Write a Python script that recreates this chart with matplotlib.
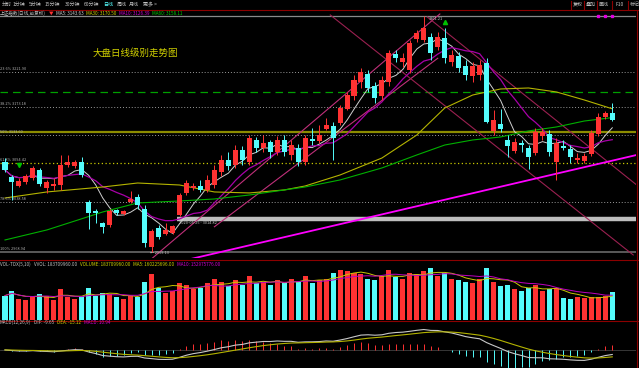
import numpy as np
import pandas as pd
import matplotlib
matplotlib.use('Agg')
import matplotlib.pyplot as plt
from matplotlib.lines import Line2D

plt.rcParams['font.family'] = ['Noto Sans CJK SC', 'DejaVu Sans']

# daily candles (index points)
opens = [3095.6, 3074.5, 3061.8, 3067.4, 3073.1, 3084.3, 3059.0, 3061.8, 3063.2, 3091.4,
         3090.0, 3095.6, 3039.3, 3026.6, 3009.7, 3006.9, 3028.0, 3022.4, 3039.3, 3046.3,
         3029.4, 2975.9, 3002.7, 2994.2, 2995.6, 3021.0, 3052.0, 3059.0, 3061.8, 3056.2,
         3063.2, 3081.5, 3098.4, 3091.4, 3112.5, 3095.6, 3126.6, 3115.3, 3123.8, 3109.7,
         3126.6, 3105.5, 3115.3, 3095.6, 3128.0, 3125.2, 3142.1, 3146.3, 3150.5, 3170.2,
         3188.5, 3208.2, 3219.5, 3202.6, 3188.5, 3208.2, 3247.7, 3236.4, 3225.1, 3268.8,
         3267.4, 3271.6, 3257.5, 3270.2, 3236.4, 3244.9, 3230.8, 3216.7, 3218.1, 3235.0,
         3139.3, 3149.1, 3126.6, 3111.1, 3122.4, 3115.3, 3108.3, 3132.2, 3135.0, 3095.6,
         3118.1, 3113.9, 3098.4, 3097.0, 3106.9, 3135.0, 3159.0, 3164.6]
closes = [3084.3, 3067.4, 3068.9, 3075.9, 3087.2, 3064.6, 3067.4, 3064.6, 3091.4, 3095.6,
          3095.6, 3077.3, 3023.8, 3023.8, 3004.1, 3026.6, 3023.8, 3026.6, 3043.5, 3035.1,
          2981.6, 2998.5, 2990.0, 2999.9, 3005.5, 3049.1, 3066.0, 3061.8, 3056.2, 3070.3,
          3084.3, 3098.4, 3090.0, 3112.5, 3098.4, 3129.4, 3115.3, 3122.4, 3109.7, 3126.6,
          3109.7, 3119.5, 3095.6, 3129.4, 3125.2, 3133.6, 3147.7, 3129.4, 3171.6, 3189.9,
          3211.1, 3222.3, 3199.8, 3185.7, 3211.1, 3249.1, 3242.0, 3242.0, 3263.2, 3277.2,
          3284.3, 3249.1, 3271.6, 3242.0, 3246.3, 3228.0, 3218.1, 3230.8, 3232.2, 3151.9,
          3154.7, 3142.1, 3118.1, 3123.8, 3119.5, 3102.6, 3137.8, 3137.8, 3109.7, 3122.4,
          3115.3, 3102.6, 3101.2, 3104.1, 3136.4, 3159.0, 3164.6, 3154.7]
highs = [3101.2, 3077.3, 3073.1, 3078.7, 3090.0, 3087.2, 3070.3, 3073.1, 3105.5, 3105.5,
         3098.4, 3102.6, 3042.1, 3029.4, 3011.1, 3029.4, 3029.4, 3028.0, 3054.8, 3050.5,
         3035.1, 3001.3, 3006.9, 3009.7, 3006.9, 3052.0, 3070.3, 3066.0, 3070.3, 3077.3,
         3091.4, 3105.5, 3109.7, 3119.5, 3118.1, 3133.6, 3130.8, 3133.6, 3126.6, 3132.2,
         3133.6, 3126.6, 3120.9, 3133.6, 3143.5, 3147.7, 3157.6, 3151.9, 3175.9, 3194.2,
         3218.1, 3228.0, 3225.1, 3208.2, 3216.7, 3253.3, 3253.3, 3249.1, 3267.4, 3281.5,
         3301.2, 3277.2, 3278.6, 3284.3, 3253.3, 3250.5, 3239.2, 3236.4, 3239.2, 3242.0,
         3168.8, 3170.2, 3133.6, 3129.4, 3126.6, 3119.5, 3143.5, 3143.5, 3140.7, 3129.4,
         3126.6, 3119.5, 3108.3, 3108.3, 3140.7, 3164.6, 3167.4, 3178.7]
lows = [3081.5, 3042.1, 3060.4, 3064.6, 3070.3, 3061.8, 3052.0, 3056.2, 3056.2, 3088.6,
        3087.2, 3074.5, 3001.3, 3009.7, 2995.6, 3004.1, 3021.0, 3021.0, 3037.9, 3029.4,
        2975.9, 2968.9, 2987.2, 2992.8, 2994.2, 3019.6, 3049.1, 3056.2, 3053.4, 3053.4,
        3059.0, 3075.9, 3084.3, 3087.2, 3091.4, 3091.4, 3109.7, 3109.7, 3101.2, 3105.5,
        3104.1, 3098.4, 3090.0, 3091.4, 3119.5, 3122.4, 3140.7, 3098.4, 3147.7, 3168.8,
        3182.9, 3199.8, 3194.2, 3178.7, 3182.9, 3202.6, 3236.4, 3229.4, 3220.9, 3264.6,
        3264.6, 3239.2, 3253.3, 3235.0, 3230.8, 3222.3, 3211.1, 3208.2, 3211.1, 3150.5,
        3133.6, 3137.8, 3102.6, 3108.3, 3109.7, 3085.7, 3105.5, 3126.6, 3104.1, 3070.3,
        3112.5, 3094.2, 3094.2, 3094.2, 3104.1, 3132.2, 3156.1, 3153.3]
volumes = [160, 190, 140, 130, 150, 170, 160, 130, 200, 150, 140, 160,
           210, 160, 180, 170, 150, 140, 160, 150,
           250, 300, 210, 180, 190, 240, 230, 200,
           210, 240, 270, 250, 220, 260, 230, 290, 240, 250, 230, 260, 240, 270, 250,
           290, 240, 260, 270, 310, 330, 320,
           310, 300, 270, 260, 290, 330, 280, 270, 310, 300, 320, 340, 290, 310,
           270, 260, 250, 240, 270, 340,
           250, 220, 230, 200, 190, 210, 230, 190, 200, 210,
           144, 140, 148, 145, 148, 150, 155, 184]  # millions

ma30_idx = [0, 6, 14, 19, 25, 30, 35, 40, 43, 48, 54, 59, 63, 67, 71, 75, 79, 83, 87]
ma30_val = [3044.9, 3053.4, 3060.4, 3066.0, 3063.2, 3053.4, 3052.0, 3056.2, 3061.8, 3077.3,
            3101.2, 3133.6, 3171.6, 3189.9, 3198.4, 3199.8, 3194.2, 3182.9, 3170.5]
ma60_idx = [0, 6, 10, 14, 19, 25, 30, 35, 40, 43, 48, 54, 59, 63, 67, 71, 75, 79, 83, 87]
ma60_val = [2985.8, 2999.9, 3012.5, 3025.2, 3037.9, 3040.7, 3043.5, 3049.1, 3056.2, 3060.4,
            3070.3, 3087.2, 3105.5, 3119.5, 3126.6, 3130.8, 3139.3, 3144.9, 3153.3, 3158.1]

# fibonacci levels
fib_names = ['23.6%', '38.2%', '50%', '61.8%', '78.6%', '100%']
fib_vals = [3221.90, 3173.18, 3133.60, 3094.42, 3038.58, 2968.94]
fib_top = 3301.21
support = 3014.82
green_level = 3194.2
olive_level = 3138.5

# drawn trend lines (index, price)
magenta_line = ([26.0, 90.5], [2957.6, 3105.5])
up_lines = [([20.8, 62.3], [2957.6, 3304.0]), ([30.0, 62.0], [3004.4, 3241.7])]
down_lines = [([60.5, 90.5], [3299.8, 3063.2]), ([46.6, 90.0], [3302.6, 2964.7])]

RED = '#ff3232'
CYAN = '#54fcfc'
W, H = 639, 368
n = len(closes)
idx = np.arange(n)
o = np.array(opens); c = np.array(closes)
up = c >= o
cols = np.where(up, RED, CYAN)

fig = plt.figure(figsize=(W / 100, H / 100), dpi=100, facecolor='black')
rend = fig.canvas.get_renderer()


def box(y0, y1, x0=0, x1=636):
    a = fig.add_axes([x0 / W, 1 - y1 / H, (x1 - x0) / W, (y1 - y0) / H])
    a.set_facecolor('black')
    a.set_xlim(-0.716, 90.4)
    a.set_xticks([]); a.set_yticks([])
    for s in a.spines.values():
        s.set_visible(False)
    return a


def hline(y, x0=0, x1=W, color='#8c0000', lw=0.8):
    fig.add_artist(Line2D([x0 / W, x1 / W], [1 - y / H, 1 - y / H], color=color, lw=lw))


def text_row(items, y, x0=0, fs=3.3, gap=3):
    # lay texts left to right without overlap
    x = x0
    for t, col in items:
        tx = fig.text(x / W, 1 - y / H, t, color=col, fontsize=fs, va='center')
        x = tx.get_window_extent(rend).x1 + gap


# ---------------- main panel
ax = box(11, 258)
ax.set_ylim(2960.4, 3308.2)

dot = (0, (1, 2))
ax.axhline(fib_top, color='#8a8a8a', lw=0.9)
for nm, v in zip(fib_names, fib_vals):
    if nm == '100%':
        ax.axhline(v, color='#5a5a5a', lw=1.4)
    elif nm == '61.8%':
        ax.axhline(v, color='#c8c800', lw=0.9, ls=dot)
    else:
        ax.axhline(v, color='#9a9a9a', lw=0.7, ls=dot)
    ax.text(-0.7, v + 1.5, nm + ' ' + format(v, '.2f'), color='#b0b0b0', fontsize=2.8,
            va='bottom', ha='left')
ax.axhline(green_level, color='#00a000', lw=0.9, ls=(0, (6, 4)))
ax.axhline(olive_level, color='#8c8c00', lw=1.6)
ax.plot([24.7, 90.4], [support, support], color='#bebebe', lw=3.2, solid_capstyle='butt')
ax.text(24.9, support - 3, '2020-05-25 - 3014.82', color='#c8c8c8', fontsize=2.8, va='top')
ax.text(60.7, fib_top - 1, '3301.21', color='#c8c8c8', fontsize=2.8, va='top')
ax.text(20.8, lows[21] + 2, '\u2190 2969.13', color='#c8c8c8', fontsize=2.8, va='top')

# trend lines
for xs, ys in up_lines:
    ax.plot(xs, ys, color='#c0307a', lw=0.8)
for xs, ys in down_lines:
    ax.plot(xs, ys, color='#9a2050', lw=0.8)
ax.plot(*magenta_line, color='#ff00ff', lw=1.3)

# moving averages
cs = pd.Series(closes)
ax.plot(idx, cs.rolling(5, min_periods=1).mean(), color='#d0d0d0', lw=0.7)
ax.plot(idx, cs.rolling(10, min_periods=1).mean(), color='#a800a8', lw=0.9)
ax.plot(ma30_idx, ma30_val, color='#b4b400', lw=0.8)
ax.plot(ma60_idx, ma60_val, color='#00b000', lw=0.8)

# candles
ax.vlines(idx, lows, highs, colors=cols, lw=0.7, zorder=3)
ax.bar(idx, c - o, bottom=o, width=0.72, color=cols, zorder=4)

# markers
ax.plot(63, highs[63] + 9, marker='^', color='#00c000', ms=3, zorder=5)
ax.plot(2, highs[2] + 18, marker='v', color='#00c000', ms=3, zorder=5)
ax.plot([85, 86, 87], [fib_top] * 3, marker='s', ls='', color='#e000e0', ms=1.5, zorder=5)

fig.text(93 / W, 1 - 53 / H, '大盘日线级别走势图', color='#d2d200', fontsize=6.8,
         va='center', ha='left')

# ---------------- volume panel
axv = box(266, 320)
axv.set_ylim(0, 354)
axv.bar(idx, volumes, width=0.72, color=cols)
vs = pd.Series(volumes)
axv.plot(idx, vs.rolling(5, min_periods=1).mean(), color='#c8c800', lw=0.7)
axv.plot(idx, vs.rolling(10, min_periods=1).mean(), color='#c000c0', lw=0.7)

# ---------------- MACD panel
axm = box(326, 368)
axm.set_ylim(-40, 53)
ema12 = cs.ewm(span=12, adjust=False).mean()
ema26 = cs.ewm(span=26, adjust=False).mean()
dif = ema12 - ema26
dea = dif.ewm(span=9, adjust=False).mean()
hist = 2 * (dif - dea)
axm.axhline(0, color='#404040', lw=0.6)
axm.vlines(idx, 0, hist, colors=np.where(hist >= 0, RED, CYAN), lw=0.7)
axm.plot(idx, dif, color='#c8c8c8', lw=0.8)
axm.plot(idx, dea, color='#b4b400', lw=0.8)

# ---------------- frame, menus, headers
hline(9.5)
hline(259.5)
hline(320.5)
fig.add_artist(Line2D([636.5 / W] * 2, [1 - 10 / H, 0], color='#8c0000', lw=0.8))

menu = [('分时', 2), ('1分钟', 13), ('5分钟', 29), ('15分钟', 45), ('30分钟', 65),
        ('60分钟', 84), ('日线', 103), ('周线', 117), ('月线', 129), ('更多 >', 143)]
for t, x in menu:
    fig.text(x / W, 1 - 4.5 / H, t, color='#54fcfc' if t == '日线' else '#c0c0c0',
             fontsize=3.6, va='center')
for t, x in [('复权', 573), ('叠加', 586), ('画线', 599), ('F10', 616), ('标记', 630)]:
    fig.text(x / W, 1 - 4.5 / H, t, color='#c0c0c0', fontsize=3.6, va='center')
for x in [571, 584, 597, 612, 628]:
    fig.add_artist(Line2D([x / W] * 2, [1 - 0.5 / H, 1 - 9 / H], color='#8c0000', lw=0.8))

text_row([('上证指数(日线,前复权)', '#c0c0c0'), ('\u25bc', RED), ('MA5: 3143.63', '#d0d0d0'),
          ('MA30: 3170.50', '#d2d200'), ('MA10: 3126.39', '#d000d0'),
          ('MA60: 3158.11', '#00d000')], 13.5, gap=2.5)
text_row([('VOL-TDX(5,10)', '#c0c0c0'), ('VVOL: 183709960.00', '#c0c0c0'),
          ('VOLUME: 183709960.00', '#d2d200'), ('MA5: 160225696.00', '#d2d200'),
          ('MA10: 152975776.00', '#d000d0')], 264)
text_row([('MACD(12,26,9)', '#c0c0c0'), ('DIF: -9.65', '#c0c0c0'),
          ('DEA: -15.12', '#d2d200'), ('MACD: 10.94', '#d000d0')], 322.5)

fig.savefig('out.png', dpi=100, facecolor='black')
